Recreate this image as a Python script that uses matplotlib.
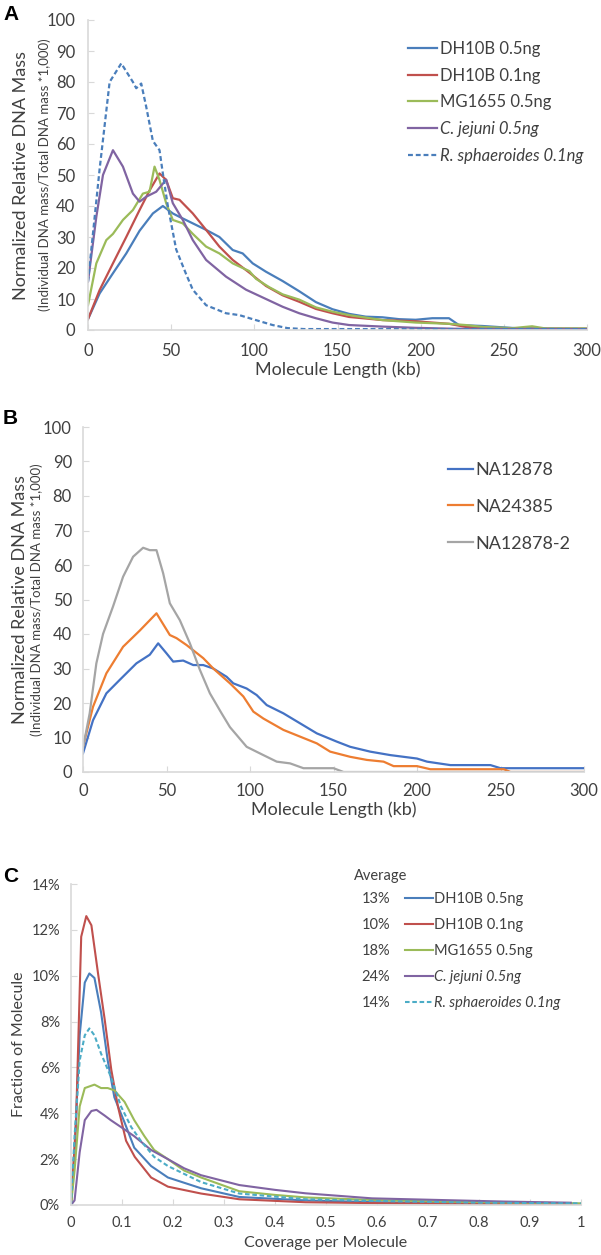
import matplotlib
matplotlib.use("Agg")
import matplotlib.pyplot as plt

plt.rcParams['font.family'] = ['Lato', 'DejaVu Sans']

W, H = 601, 1255

# ---- panel A: molecule length distribution, bacterial samples ----
a_labels = ["DH10B 0.5ng", "DH10B 0.1ng", "MG1655 0.5ng", "C. jejuni 0.5ng", "R. sphaeroides 0.1ng"]
a_colors = ["#4A7EBB", "#C0504D", "#9BBB59", "#8064A2", "#4A7EBB"]

a_dh10b_05_x = [0, 7, 15, 23, 31, 39, 45, 51, 55, 63, 71, 79, 87, 93, 99, 107, 117, 127, 137, 147, 157, 167, 177, 187, 197, 207, 217, 223, 237, 257, 280, 300]
a_dh10b_05_y = [3.5, 11.8, 18.3, 24.7, 32, 37.6, 40, 37.6, 36.5, 34.4, 32.3, 30, 25.8, 24.7, 21.5, 18.8, 15.8, 12.5, 9, 6.7, 5.2, 4.3, 4.1, 3.5, 3.3, 3.8, 3.8, 1.6, 1.3, 0.6, 0.4, 0.3]

a_dh10b_01_x = [0, 7, 15, 23, 31, 37, 43, 47, 51, 55, 63, 71, 79, 87, 97, 107, 117, 127, 137, 147, 157, 177, 197, 217, 227, 237, 260, 300]
a_dh10b_01_y = [3.5, 12.9, 21.5, 30, 38.7, 45, 50.5, 48.4, 42.5, 42, 37.6, 32.3, 26.9, 22.6, 18.5, 14.2, 11.2, 9.1, 6.8, 5.4, 4.2, 3.2, 2.8, 2, 1, 0.7, 0.4, 0.4]

a_mg1655_x = [0, 5, 11, 15, 21, 27, 33, 37, 40, 43, 47, 51, 57, 63, 71, 79, 87, 97, 101, 109, 117, 127, 137, 147, 157, 177, 197, 217, 227, 237, 255, 267, 275, 300]
a_mg1655_y = [8, 21.5, 29, 31, 35.5, 38.7, 44, 44.6, 52.7, 48.4, 40.9, 35.5, 34.4, 31, 26.9, 24.7, 21.5, 19, 16.5, 13.8, 11.5, 9.8, 7.3, 5.9, 4.8, 3.2, 2.4, 2, 1.6, 1, 0.6, 1.2, 0.5, 0.5]

a_cjej_x = [0, 5, 9, 15, 21, 27, 31, 35, 41, 47, 51, 57, 63, 71, 83, 95, 107, 117, 127, 137, 147, 157, 177, 197, 220, 300]
a_cjej_y = [15.6, 36.5, 50, 58, 52.7, 44, 41.4, 43, 44.6, 48.5, 40.9, 35.5, 29, 22.6, 17.2, 13, 10, 7.5, 5.4, 3.8, 2.4, 1.6, 1.1, 0.7, 0.4, 0.3]

a_rsph_x = [0, 7, 13, 20, 27, 29, 32, 35, 39, 43, 45, 48, 53, 59, 63, 71, 83, 91, 99, 111, 120, 130, 300]
a_rsph_y = [15.6, 52, 80, 86, 80, 78, 79.5, 72, 61, 58, 50.5, 40, 26, 18, 13, 8, 5.4, 4.8, 3.5, 1.6, 0.6, 0.3, 0.3]

# ---- panel B: human samples ----
b_labels = ["NA12878", "NA24385", "NA12878-2"]
b_colors = ["#4472C4", "#ED7D31", "#A5A5A5"]

b_na12878_x = [0, 6, 14, 22, 32, 40, 45, 50, 54, 60, 66, 72, 78, 86, 90, 98, 104, 110, 120, 140, 152, 160, 172, 184, 200, 206, 220, 244, 250, 300]
b_na12878_y = [5.4, 15, 22.8, 26.7, 31.5, 34, 37.3, 34.4, 32, 32.3, 31, 31, 30, 27.6, 25.7, 24.2, 22.3, 19.4, 17, 11.2, 8.8, 7.3, 5.9, 4.9, 3.9, 3, 2, 2, 1.1, 1.1]

b_na24385_x = [0, 6, 14, 24, 34, 44, 52, 56, 62, 72, 78, 88, 96, 102, 108, 120, 140, 148, 160, 170, 180, 186, 200, 208, 252, 256, 300]
b_na24385_y = [7.4, 18.9, 28.6, 36.3, 41, 46, 39.7, 38.8, 36.8, 33, 30, 25.7, 21.9, 17.5, 15.5, 12.2, 8.3, 5.9, 4.4, 3.5, 3, 1.7, 1.7, 0.8, 0.8, 0, 0]

b_na12878_2_x = [0, 4, 8, 12, 18, 24, 30, 36, 40, 44, 48, 52, 58, 64, 70, 76, 83, 88, 98, 108, 116, 124, 132, 150, 156, 300]
b_na12878_2_y = [7, 17, 31.5, 40, 48, 56.6, 62.4, 65, 64.3, 64.3, 57.6, 48.9, 44, 37.3, 29.6, 22.8, 17, 13, 7.3, 4.9, 3, 2.5, 1.1, 1.1, 0, 0]

# ---- panel C: coverage per molecule (percent) ----
c_labels = a_labels
c_averages = ["13%", "10%", "18%", "24%", "14%"]
c_colors = ["#4A7EBB", "#C0504D", "#9BBB59", "#8064A2", "#4BACC6"]

c_dh10b_05_x = [0, 0.007, 0.017, 0.027, 0.036, 0.046, 0.059, 0.072, 0.085, 0.105, 0.124, 0.157, 0.19, 0.255, 0.33, 0.46, 0.6, 0.8, 1.0]
c_dh10b_05_y = [0, 2.3, 7.4, 9.7, 10.1, 9.9, 8.4, 6.3, 4.7, 3.6, 2.5, 1.7, 1.2, 0.73, 0.35, 0.2, 0.12, 0.07, 0.05]

c_dh10b_01_x = [0, 0.01, 0.02, 0.03, 0.04, 0.053, 0.066, 0.079, 0.092, 0.108, 0.125, 0.157, 0.19, 0.255, 0.33, 0.4, 0.46, 0.6, 0.8, 1.0]
c_dh10b_01_y = [0, 3.7, 11.7, 12.6, 12.2, 10.1, 8.1, 5.9, 4.3, 2.8, 2.1, 1.2, 0.8, 0.5, 0.25, 0.18, 0.12, 0.08, 0.05, 0.04]

c_mg1655_x = [0, 0.007, 0.017, 0.027, 0.046, 0.059, 0.072, 0.085, 0.105, 0.124, 0.144, 0.163, 0.19, 0.222, 0.255, 0.33, 0.4, 0.46, 0.59, 0.72, 1.0]
c_mg1655_y = [0, 1.5, 4.3, 5.1, 5.25, 5.1, 5.1, 5.0, 4.5, 3.7, 3.0, 2.4, 2.0, 1.5, 1.2, 0.6, 0.44, 0.33, 0.22, 0.15, 0.07]

c_cjej_x = [0, 0.007, 0.017, 0.027, 0.04, 0.05, 0.066, 0.078, 0.098, 0.124, 0.157, 0.19, 0.222, 0.255, 0.33, 0.4, 0.46, 0.59, 0.72, 0.85, 0.98]
c_cjej_y = [0, 0.2, 2.3, 3.7, 4.1, 4.15, 3.9, 3.7, 3.4, 3.0, 2.4, 2.0, 1.6, 1.3, 0.87, 0.66, 0.51, 0.29, 0.22, 0.15, 0.1]

c_rsph_x = [0, 0.007, 0.017, 0.027, 0.036, 0.046, 0.059, 0.078, 0.098, 0.118, 0.137, 0.163, 0.19, 0.255, 0.33, 0.46, 0.59, 0.8, 1.0]
c_rsph_y = [0, 3, 6.3, 7.4, 7.7, 7.4, 6.6, 5.6, 4.3, 3.4, 2.8, 2.1, 1.7, 1.0, 0.5, 0.25, 0.18, 0.1, 0.07]

c_xticks = [0, 0.1, 0.2, 0.3, 0.4, 0.5, 0.6, 0.7, 0.8, 0.9, 1]
c_yticks = [0, 2, 4, 6, 8, 10, 12, 14]

TXT = "#404040"
SPINE = "#D9D9D9"
DASH = (0, (2.2, 1.3))


def fx(px):
    return px / W


def fy(py):
    return 1 - py / H


def make_axes(l, t, r, b):
    ax = fig.add_axes([fx(l), fy(b), fx(r) - fx(l), fy(t) - fy(b)])
    for s in ["top", "right"]:
        ax.spines[s].set_visible(False)
    for s in ["left", "bottom"]:
        ax.spines[s].set_color(SPINE)
        ax.spines[s].set_linewidth(1.2)
    ax.tick_params(direction="in", length=4, color=SPINE, labelcolor=TXT)
    return ax


fig = plt.figure(figsize=(W / 100, H / 100), dpi=100)

# ---------- A ----------
axA = make_axes(88, 20, 587, 330)
a_series = [(a_dh10b_05_x, a_dh10b_05_y), (a_dh10b_01_x, a_dh10b_01_y), (a_mg1655_x, a_mg1655_y),
            (a_cjej_x, a_cjej_y), (a_rsph_x, a_rsph_y)]
for i, (xs, ys) in enumerate(a_series):
    ls = DASH if i == 4 else "-"
    axA.plot(xs, ys, color=a_colors[i], lw=1.6, ls=ls, label=a_labels[i])
axA.set_xlim(0, 300)
axA.set_ylim(0, 100)
axA.set_xticks(range(0, 301, 50))
axA.set_yticks(range(0, 101, 10))
axA.tick_params(labelsize=12, pad=9)
axA.set_xlabel("Molecule Length (kb)", fontsize=13, color=TXT, labelpad=2)
legA = axA.legend(loc="upper left", bbox_to_anchor=(fx(408), fy(41)), bbox_transform=fig.transFigure,
                  frameon=False, fontsize=12, borderpad=0, borderaxespad=0, handlelength=1.75,
                  handletextpad=0.2, labelspacing=0.64)
for t in legA.get_texts():
    t.set_color(TXT)
legA.get_texts()[3].set_fontstyle("italic")
legA.get_texts()[4].set_fontstyle("italic")

# ---------- B ----------
axB = make_axes(83, 427, 584, 772)
b_series = [(b_na12878_x, b_na12878_y), (b_na24385_x, b_na24385_y), (b_na12878_2_x, b_na12878_2_y)]
for i, (xs, ys) in enumerate(b_series):
    axB.plot(xs, ys, color=b_colors[i], lw=1.6, label=b_labels[i])
axB.set_xlim(0, 300)
axB.set_ylim(0, 100)
axB.set_xticks(range(0, 301, 50))
axB.set_yticks(range(0, 101, 10))
axB.tick_params(labelsize=12, pad=8)
axB.set_xlabel("Molecule Length (kb)", fontsize=13, color=TXT, labelpad=2)
legB = axB.legend(loc="upper left", bbox_to_anchor=(fx(448), fy(462)), bbox_transform=fig.transFigure,
                  frameon=False, fontsize=13, borderpad=0, borderaxespad=0, handlelength=1.4,
                  handletextpad=0.1, labelspacing=1.15)
for t in legB.get_texts():
    t.set_color(TXT)

# ---------- C ----------
axC = make_axes(71, 884, 581, 1205)
c_series = [(c_dh10b_05_x, c_dh10b_05_y), (c_dh10b_01_x, c_dh10b_01_y), (c_mg1655_x, c_mg1655_y),
            (c_cjej_x, c_cjej_y), (c_rsph_x, c_rsph_y)]
for i, (xs, ys) in enumerate(c_series):
    ls = DASH if i == 4 else "-"
    axC.plot(xs, ys, color=c_colors[i], lw=1.5, ls=ls, label=c_labels[i])
axC.set_xlim(0, 1.0)
axC.set_ylim(0, 14)
axC.set_xticks(c_xticks)
axC.set_xticklabels([("%g" % v) for v in c_xticks])
axC.set_yticks(c_yticks)
axC.set_yticklabels(["%d%%" % v for v in c_yticks])
axC.tick_params(labelsize=10.5, pad=8)
axC.set_xlabel("Coverage per Molecule", fontsize=11.5, color=TXT, labelpad=4)
axC.set_ylabel("Fraction of Molecule", fontsize=11.5, color=TXT, labelpad=4)
legC = axC.legend(loc="upper left", bbox_to_anchor=(fx(405), fy(892)), bbox_transform=fig.transFigure,
                  frameon=False, fontsize=10.5, borderpad=0, borderaxespad=0, handlelength=1.9,
                  handletextpad=0.12, labelspacing=0.82)
for t in legC.get_texts():
    t.set_color(TXT)
legC.get_texts()[3].set_fontstyle("italic")
legC.get_texts()[4].set_fontstyle("italic")

# y labels for A and B (two lines, different sizes)
for (cx1, cx2, cy) in [(21, 45, 175), (20, 37, 600)]:
    fig.text(fx(cx1), fy(cy), "Normalized Relative DNA Mass", rotation=90, ha="center", va="center",
             fontsize=13, color=TXT)
    fig.text(fx(cx2), fy(cy), "(Individual DNA mass/Total DNA mass *1,000)", rotation=90,
             ha="center", va="center", fontsize=9.5, color=TXT)

# "Average" header and per-row percentages next to legend C
fig.canvas.draw()
renderer = fig.canvas.get_renderer()
fig.text(fx(354), fy(876), "Average", ha="left", va="center", fontsize=10.5, color=TXT)
for t, avg in zip(legC.get_texts(), c_averages):
    bb = t.get_window_extent(renderer)
    ymid = (bb.y0 + bb.y1) / 2 / fig.bbox.height
    fig.text(fx(390), ymid, avg, ha="right", va="center", fontsize=10.5, color=TXT)

# panel letters
for lab, py in [("A", 14), ("B", 419), ("C", 877)]:
    fig.text(fx(3), fy(py), lab, ha="left", va="center", fontsize=15, fontweight="bold",
             family="Liberation Sans", color="black")

fig.savefig("out.png", dpi=100)
